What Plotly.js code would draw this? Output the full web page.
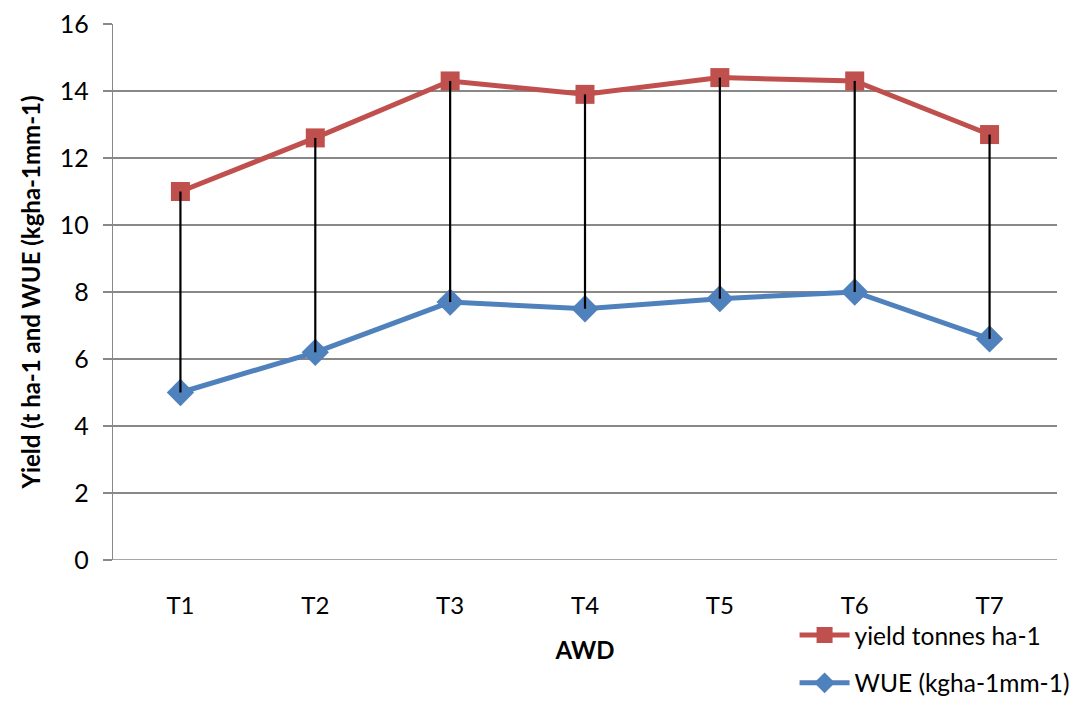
<!DOCTYPE html>
<html>
<head>
<meta charset="utf-8">
<script src="https://cdn.plot.ly/plotly-3.0.1.min.js"></script>
<style>html,body{margin:0;padding:0;background:#fff;}#chart{width:1081px;height:704px;}</style>
</head>
<body>
<div id="chart"></div>
<script>
const categories = ["T1", "T2", "T3", "T4", "T5", "T6", "T7"];
const yieldValues = [11.0, 12.6, 14.3, 13.9, 14.4, 14.3, 12.7];
const wueValues = [5.0, 6.2, 7.7, 7.5, 7.8, 8.0, 6.6];
const yTicks = [0, 2, 4, 6, 8, 10, 12, 14, 16];
const yieldName = "yield tonnes ha-1";
const wueName = "WUE (kgha-1mm-1)";

const dropX = [], dropY = [];
categories.forEach((c, i) => {
  dropX.push(c, c, null);
  dropY.push(yieldValues[i], wueValues[i], null);
});

const FONT = "Lato, 'Open Sans', sans-serif";

const traces = [
  {
    x: categories, y: yieldValues, name: yieldName, type: "scatter", mode: "lines+markers",
    line: {color: "#C0504D", width: 5},
    marker: {symbol: "square", size: 19, color: "#C0504D"},
    legendgroup: "a"
  },
  {
    x: categories, y: wueValues, name: wueName, type: "scatter", mode: "lines+markers",
    line: {color: "#4F81BD", width: 5},
    marker: {symbol: "diamond", size: 21, color: "#4F81BD"},
    legendgroup: "b"
  },
  {
    x: dropX, y: dropY, type: "scatter", mode: "lines", showlegend: false,
    line: {color: "#000000", width: 2.2}, hoverinfo: "skip"
  }
];

const layout = {
  width: 1081, height: 704,
  margin: {l: 113, r: 24, t: 24, b: 144, autoexpand: false},
  paper_bgcolor: "#ffffff", plot_bgcolor: "#ffffff",
  font: {family: FONT, size: 24, color: "#000"},
  showlegend: true,
  legend: {
    x: 0.722, y: -0.098, xanchor: "left", yanchor: "top",
    font: {family: FONT, size: 24.5, color: "#000"},
    traceorder: "grouped", tracegroupgap: 13,
    bgcolor: "rgba(0,0,0,0)", itemwidth: 50
  },
  xaxis: {
    type: "category", categoryorder: "array", categoryarray: categories,
    range: [-0.5, 6.5],
    showgrid: false, zeroline: false, showline: false,
    ticks: "", ticklabelstandoff: 29,
    tickfont: {family: FONT, size: 24, color: "#000"},
    title: {text: "<b>AWD</b>", font: {family: FONT, size: 24, color: "#000"}, standoff: 24}
  },
  yaxis: {
    range: [0, 16], tickvals: yTicks, ticktext: yTicks.map(String),
    showgrid: true, gridcolor: "#888888", gridwidth: 1.3,
    zeroline: false, showline: true, linecolor: "#888888", linewidth: 1.3,
    ticks: "outside", ticklen: 9, tickcolor: "#888888", tickwidth: 1.3,
    ticklabelstandoff: 9,
    tickfont: {family: FONT, size: 25, color: "#000"},
    title: {text: "<b>Yield (t ha-1 and WUE (kgha-1mm-1)</b>", font: {family: FONT, size: 24, color: "#000"}, standoff: 12}
  },
  shapes: [{
    type: "line", xref: "paper", yref: "y", x0: 0, x1: 1, y0: 0, y1: 0,
    line: {color: "#888888", width: 1.3}
  }]
};

Plotly.newPlot("chart", traces, layout, {displayModeBar: false, staticPlot: true});
</script>
</body>
</html>
